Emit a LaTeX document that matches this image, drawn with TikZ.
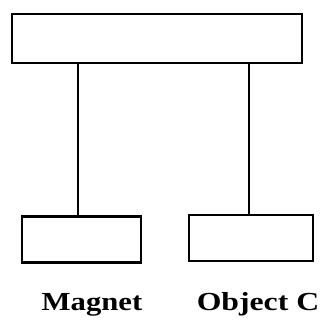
\documentclass[tikz,border=0pt]{standalone}
\usepackage{fontspec}
\setmainfont{Liberation Serif}
\usetikzlibrary{positioning, calc}

\begin{document}
\begin{tikzpicture}[
  x=1pt, y=-1pt,
  barbox/.style={rectangle, draw=black, line width=2.4pt,
                 minimum width=290pt, minimum height=49pt, inner sep=0pt},
  hangbox/.style={rectangle, draw=black, line width=2.2pt,
                  minimum height=46pt, inner sep=0pt},
  thread/.style={draw=black, line width=2.6pt},
  lbl/.style={font=\fontsize{26}{30}\selectfont\bfseries, anchor=base, inner sep=0pt}
]
\useasboundingbox (0,0) rectangle (324,327);

%% --- SUPPORT BAR ---
\node[barbox] (bar) at (157, 38.5) {};

%% --- HANGING BOXES ---
\node[hangbox, minimum width=119pt] (magnet) at (81.5, 239.5) {};
\node[hangbox, minimum width=124pt] (objc) at (251, 238) {};

%% --- THREADS ---
\draw[thread] ($(magnet.north)+(-3.5,0)$) -- ($(magnet.north |- bar.south)+(-3.5,0)$);
\draw[thread] ($(objc.north)+(-2,0)$) -- ($(objc.north |- bar.south)+(-2,0)$);

%% --- LABELS ---
\node[lbl] (magnetlbl) at (92, 310) {\scalebox{1.18}[1]{Magnet}};
\node[lbl] (objclbl) at (258, 310) {\scalebox{1.22}[1]{Object C}};

\end{tikzpicture}
\end{document}
